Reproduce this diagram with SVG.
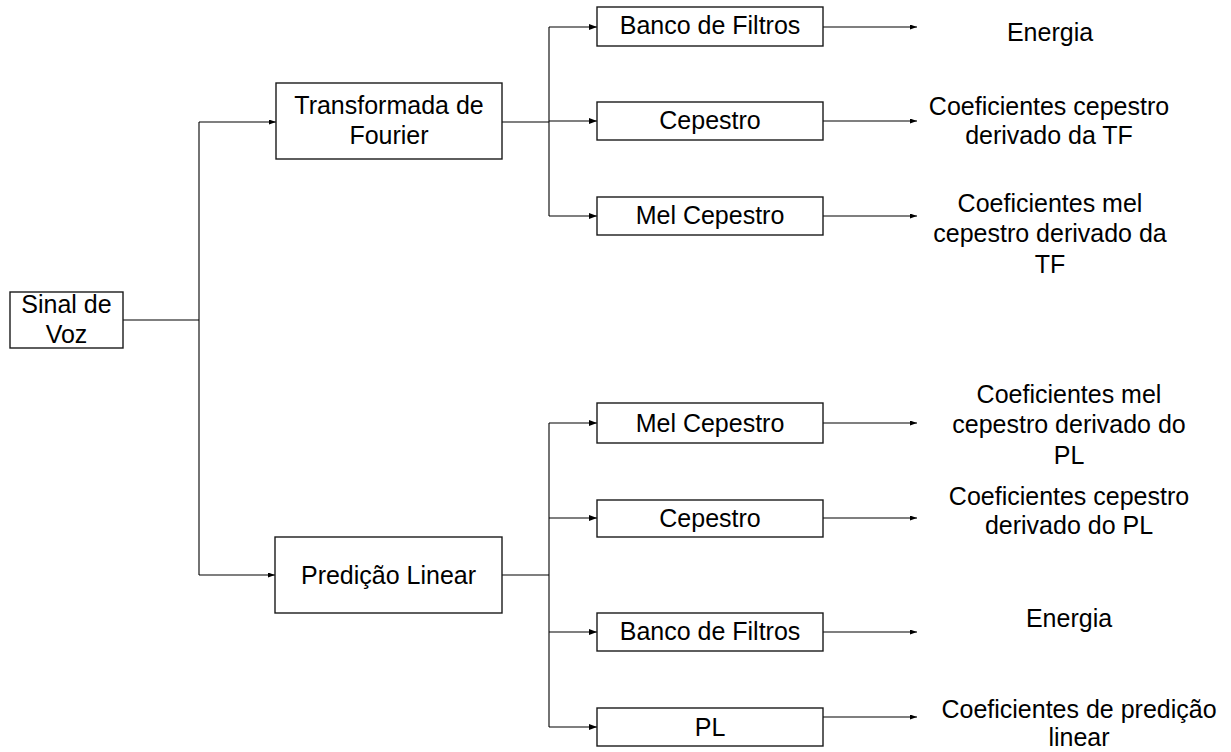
<svg xmlns="http://www.w3.org/2000/svg" width="1231" height="752" viewBox="0 0 1231 752">
  <style>
    .box { fill: #ffffff; stroke: #1a1a1a; stroke-width: 1.4; }
    .wire { fill: none; stroke: #000000; stroke-width: 1.1; }
    .lbl { font-family: "Liberation Sans", Arial, sans-serif; font-size: 25px; fill: #000000; text-anchor: middle; }
  </style>
  <defs>
    <marker id="head" markerUnits="userSpaceOnUse" markerWidth="8" markerHeight="6" refX="8" refY="3" orient="auto">
      <path d="M0,0 L8,3 L0,6 Z" fill="#000000"/>
    </marker>
    <marker id="headSmall" markerUnits="userSpaceOnUse" markerWidth="7" markerHeight="5" refX="7" refY="2.5" orient="auto">
      <path d="M0,0 L7,2.5 L0,5 Z" fill="#000000"/>
    </marker>
  </defs>
  <rect width="1231" height="752" fill="#ffffff"/>

  <!-- connectors -->
  <g id="connectors" class="wire">
    <path d="M123,320 H199"/>
    <path d="M199,122 V575"/>
    <path d="M199,122 H276" marker-end="url(#headSmall)"/>
    <path d="M199,575 H275" marker-end="url(#headSmall)"/>

    <path d="M502,122 H549"/>
    <path d="M549,27 V216"/>
    <path d="M549,27 H597" marker-end="url(#head)"/>
    <path d="M549,121 H597" marker-end="url(#head)"/>
    <path d="M549,216 H597" marker-end="url(#head)"/>
    <path d="M823,27 H917" marker-end="url(#headSmall)"/>
    <path d="M823,121 H917" marker-end="url(#headSmall)"/>
    <path d="M823,216 H917" marker-end="url(#headSmall)"/>

    <path d="M502,575 H549"/>
    <path d="M549,423 V727"/>
    <path d="M549,423 H597" marker-end="url(#head)"/>
    <path d="M549,518 H597" marker-end="url(#head)"/>
    <path d="M549,632 H597" marker-end="url(#head)"/>
    <path d="M549,727 H597" marker-end="url(#head)"/>
    <path d="M823,423 H917" marker-end="url(#headSmall)"/>
    <path d="M823,518 H917" marker-end="url(#headSmall)"/>
    <path d="M823,632 H917" marker-end="url(#headSmall)"/>
    <path d="M823,717 H917" marker-end="url(#headSmall)"/>
  </g>

  <!-- source -->
  <g id="sinal">
    <rect class="box" x="10" y="292" width="113" height="56"/>
    <text class="lbl" transform="translate(66.5,313) scale(1,1.05)"><tspan x="0" y="0">Sinal de</tspan><tspan x="0" y="29">Voz</tspan></text>
  </g>

  <!-- transforms -->
  <g id="fourier">
    <rect class="box" x="276" y="83" width="226" height="76"/>
    <text class="lbl" transform="translate(389,114) scale(1,1.05)"><tspan x="0" y="0">Transformada de</tspan><tspan x="0" y="29">Fourier</tspan></text>
  </g>
  <g id="predicao">
    <rect class="box" x="275" y="537" width="227" height="76"/>
    <text class="lbl" transform="translate(388.5,584) scale(1,1.05)">Predição Linear</text>
  </g>

  <!-- Fourier branch -->
  <g id="tf-banco">
    <rect class="box" x="597" y="7" width="226" height="39"/>
    <text class="lbl" transform="translate(710,34) scale(1,1.05)">Banco de Filtros</text>
  </g>
  <g id="tf-cepestro">
    <rect class="box" x="597" y="102" width="226" height="38"/>
    <text class="lbl" transform="translate(710,129) scale(1,1.05)">Cepestro</text>
  </g>
  <g id="tf-mel">
    <rect class="box" x="597" y="197" width="226" height="38"/>
    <text class="lbl" transform="translate(710,224) scale(1,1.05)">Mel Cepestro</text>
  </g>

  <!-- linear prediction branch -->
  <g id="pl-mel">
    <rect class="box" x="597" y="403" width="226" height="40"/>
    <text class="lbl" transform="translate(710,432) scale(1,1.05)">Mel Cepestro</text>
  </g>
  <g id="pl-cepestro">
    <rect class="box" x="597" y="500" width="226" height="37"/>
    <text class="lbl" transform="translate(710,527) scale(1,1.05)">Cepestro</text>
  </g>
  <g id="pl-banco">
    <rect class="box" x="597" y="613" width="226" height="38"/>
    <text class="lbl" transform="translate(710,640) scale(1,1.05)">Banco de Filtros</text>
  </g>
  <g id="pl-pl">
    <rect class="box" x="597" y="708" width="226" height="38"/>
    <text class="lbl" transform="translate(710,736) scale(1,1.05)">PL</text>
  </g>

  <!-- outputs -->
  <g id="out-tf-energia">
    <text class="lbl" transform="translate(1050,41) scale(1,1.05)">Energia</text>
  </g>
  <g id="out-tf-cepestro">
    <text class="lbl" transform="translate(1049,115) scale(1,1.05)"><tspan x="0" y="0">Coeficientes cepestro</tspan><tspan x="0" y="28">derivado da TF</tspan></text>
  </g>
  <g id="out-tf-mel">
    <text class="lbl" transform="translate(1050,212) scale(1,1.05)"><tspan x="0" y="0">Coeficientes mel</tspan><tspan x="0" y="29">cepestro derivado da</tspan><tspan x="0" y="58">TF</tspan></text>
  </g>
  <g id="out-pl-mel">
    <text class="lbl" transform="translate(1069,403) scale(1,1.05)"><tspan x="0" y="0">Coeficientes mel</tspan><tspan x="0" y="29">cepestro derivado do</tspan><tspan x="0" y="58">PL</tspan></text>
  </g>
  <g id="out-pl-cepestro">
    <text class="lbl" transform="translate(1069,505) scale(1,1.05)"><tspan x="0" y="0">Coeficientes cepestro</tspan><tspan x="0" y="28">derivado do PL</tspan></text>
  </g>
  <g id="out-pl-energia">
    <text class="lbl" transform="translate(1069,627) scale(1,1.05)">Energia</text>
  </g>
  <g id="out-pl-coef">
    <text class="lbl" transform="translate(1079,718) scale(1,1.05)"><tspan x="0" y="0">Coeficientes de predição</tspan><tspan x="0" y="27">linear</tspan></text>
  </g>
</svg>
